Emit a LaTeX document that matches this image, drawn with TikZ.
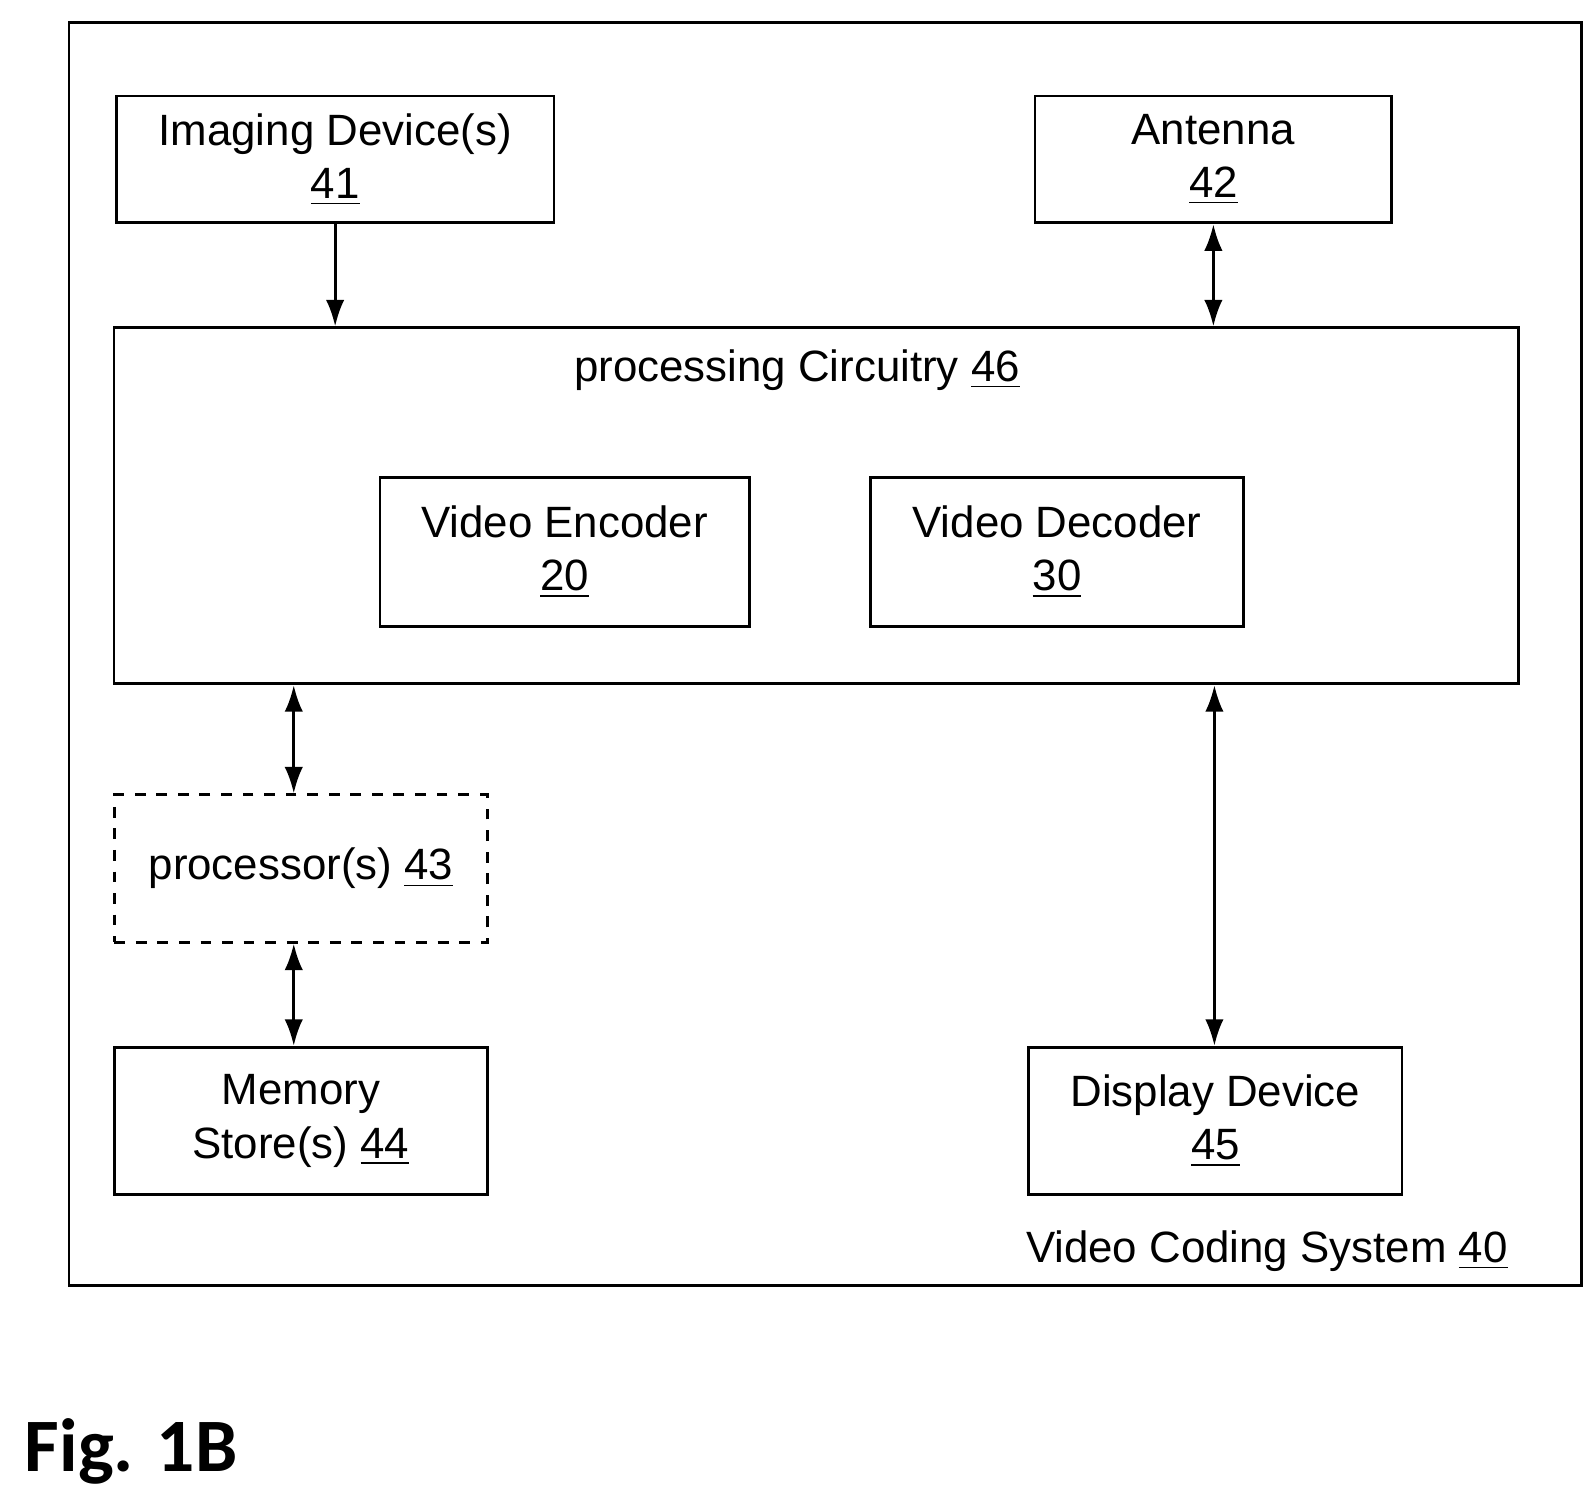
\documentclass[tikz,border=0pt]{standalone}
\usepackage{fontspec}
\setmainfont{Liberation Sans}
\newfontfamily\figfont{Carlito}
\usepackage{tikz}
\usetikzlibrary{positioning,calc,arrows.meta}

\begin{document}
\begin{tikzpicture}[x=0.01cm,y=-0.01cm,>={Latex[length=2.6mm,width=1.8mm]},
    every node/.style={align=center,font=\fontsize{12.2}{14.8}\selectfont},
    box/.style={rectangle,draw,thick,inner sep=0pt},
    con/.style={<->,thick}
    ]
    \useasboundingbox (0,0) rectangle (1560,1469);
    \node (sys) [box, minimum width=14.79cm, minimum height=12.36cm] at (807.5,640) {};
    \node (img) [box, minimum width=4.28cm, minimum height=1.24cm] at (328,156)
      {Imaging Device(s)\\\underline{41}};
    \node (ant) [box, minimum width=3.49cm, minimum height=1.24cm] at (1187.5,156)
      {Antenna\\\underline{42}};
    \node (proc) [box, minimum width=13.74cm, minimum height=3.48cm] at (799,495) {};
    \node (ptitle) at (780,362) {processing Circuitry \underline{46}};
    \node (enc) [box, minimum width=3.61cm, minimum height=1.46cm] at (552.5,540)
      {Video Encoder\\\underline{20}};
    \node (dec) [box, minimum width=3.65cm, minimum height=1.46cm] at (1034.5,540)
      {Video Decoder\\\underline{30}};
    \node (cpu) [box, dashed, minimum width=3.65cm, minimum height=1.44cm] at (294.5,850)
      {processor(s) \underline{43}};
    \node (mem) [box, minimum width=3.65cm, minimum height=1.44cm] at (294.5,1097)
      {Memory\\Store(s) \underline{44}};
    \node (disp) [box, minimum width=3.65cm, minimum height=1.44cm] at (1189.5,1097)
      {Display Device\\\underline{45}};
    \node (syslabel) [anchor=east] at (1488,1224) {Video Coding System \underline{40}};
    \node (fig) [anchor=west, font=\figfont\bfseries\fontsize{21}{25}\selectfont] at (12,1420) {Fig. 1B};

    \coordinate (cpuN) at ($(cpu.north)+(-7,0)$);
    \coordinate (cpuS) at ($(cpu.south)+(-7,0)$);
    \coordinate (dispN) at ($(disp.north)+(-1,0)$);
    \draw [->,thick] (img.south) -- (img.south |- proc.north);
    \draw [con] (ant.south) -- (ant.south |- proc.north);
    \draw [con] (cpuN |- proc.south) -- (cpuN);
    \draw [con] (cpuS) -- (cpuS |- mem.north);
    \draw [con] (dispN |- proc.south) -- (dispN);
\end{tikzpicture}
\end{document}
